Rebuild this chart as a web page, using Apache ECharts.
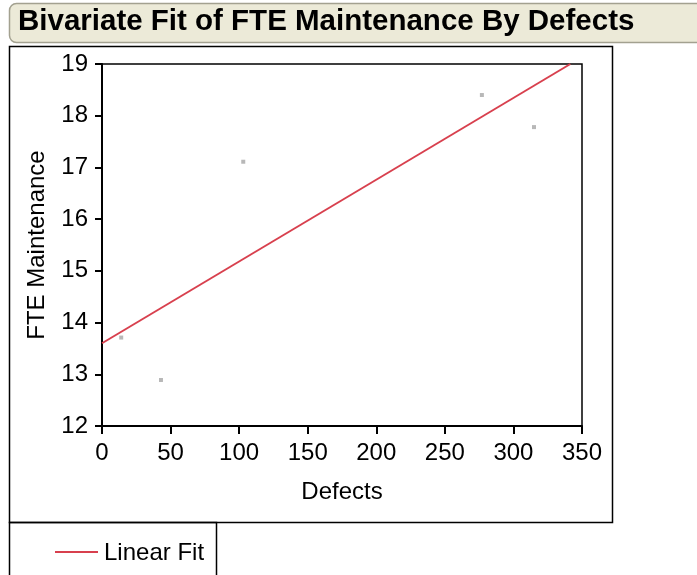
<!DOCTYPE html>
<html>
<head>
<meta charset="utf-8">
<script src="https://cdn.jsdelivr.net/npm/echarts@6/dist/echarts.min.js"></script>
<style>
  html, body { margin: 0; padding: 0; background: #ffffff; }
  #chart { width: 697px; height: 575px; }
</style>
</head>
<body>
<div id="chart"></div>
<script>
// data
var defects = [14, 43, 103, 277, 315];
var fteMaintenance = [13.71, 12.89, 17.11, 18.40, 17.78];
var fitX = [0, 341.5];
var fitY = [13.6, 19.0];
var xTicks = [0, 50, 100, 150, 200, 250, 300, 350];
var yTicks = [12, 13, 14, 15, 16, 17, 18, 19];

var myChart = echarts.init(document.getElementById("chart"));

var option = {
  backgroundColor: "#ffffff",
  animation: false,
  textStyle: { fontFamily: "Liberation Sans, Arial, sans-serif" },
  grid: {
    left: 102,
    right: 115,
    top: 64,
    bottom: 149,
    show: true,
    borderColor: "#000000",
    borderWidth: 1.5,
    backgroundColor: "transparent",
  },
  xAxis: {
    type: "value",
    min: xTicks[0],
    max: xTicks[xTicks.length - 1],
    interval: 50,
    name: "Defects",
    nameLocation: "middle",
    nameGap: 54,
    nameTextStyle: { color: "#000000", fontSize: 24 },
    axisLine: { show: true, onZero: false, lineStyle: { color: "#000000", width: 2 } },
    axisTick: { show: true, length: 8, lineStyle: { color: "#000000", width: 2 } },
    axisLabel: { color: "#000000", fontSize: 24, margin: 15 },
    splitLine: { show: false },
  },
  yAxis: {
    type: "value",
    min: yTicks[0],
    max: yTicks[yTicks.length - 1],
    interval: 1,
    name: "FTE Maintenance",
    nameLocation: "middle",
    nameGap: 53,
    nameTextStyle: { color: "#000000", fontSize: 24 },
    axisLine: { show: true, onZero: false, lineStyle: { color: "#000000", width: 2 } },
    axisTick: { show: true, length: 7, lineStyle: { color: "#000000", width: 2 } },
    axisLabel: { color: "#000000", fontSize: 24, margin: 14 },
    splitLine: { show: false },
  },
  series: [
    {
      type: "scatter",
      symbol: "rect",
      symbolSize: 4,
      itemStyle: { color: "#a6a6a6" },
      data: defects.map(function (d, i) { return [d, fteMaintenance[i]]; }),
    },
    {
      type: "line",
      symbol: "none",
      lineStyle: { color: "#d8404e", width: 2 },
      data: fitX.map(function (d, i) { return [d, fitY[i]]; }),
    },
  ],
  graphic: [
    {
      type: "rect",
      shape: { x: 9.5, y: 3.5, width: 720, height: 39, r: 7 },
      style: { fill: "#ecead8", stroke: "#a3a190", lineWidth: 1.5 },
      z: 0,
    },
    {
      type: "text",
      left: 18,
      top: 7,
      style: {
        text: "Bivariate Fit of FTE Maintenance By Defects",
        font: "bold 29.5px 'Liberation Sans', Arial, sans-serif",
        fill: "#000000",
      },
      z: 1,
    },
    {
      type: "rect",
      shape: { x: 9.5, y: 46.5, width: 603, height: 476 },
      style: { fill: "none", stroke: "#000000", lineWidth: 1.5 },
      z: 1,
    },
    {
      type: "rect",
      shape: { x: 9.5, y: 522.5, width: 207, height: 60 },
      style: { fill: "none", stroke: "#000000", lineWidth: 1.5 },
      z: 1,
    },
    {
      type: "line",
      shape: { x1: 55, y1: 552, x2: 98, y2: 552 },
      style: { stroke: "#d8404e", lineWidth: 2 },
      z: 1,
    },
    {
      type: "text",
      left: 104,
      top: 541,
      style: {
        text: "Linear Fit",
        font: "24px 'Liberation Sans', Arial, sans-serif",
        fill: "#000000",
      },
      z: 1,
    },
  ],
};

myChart.setOption(option);
window.onresize = function () {
  myChart.resize();
};
</script>
</body>
</html>
